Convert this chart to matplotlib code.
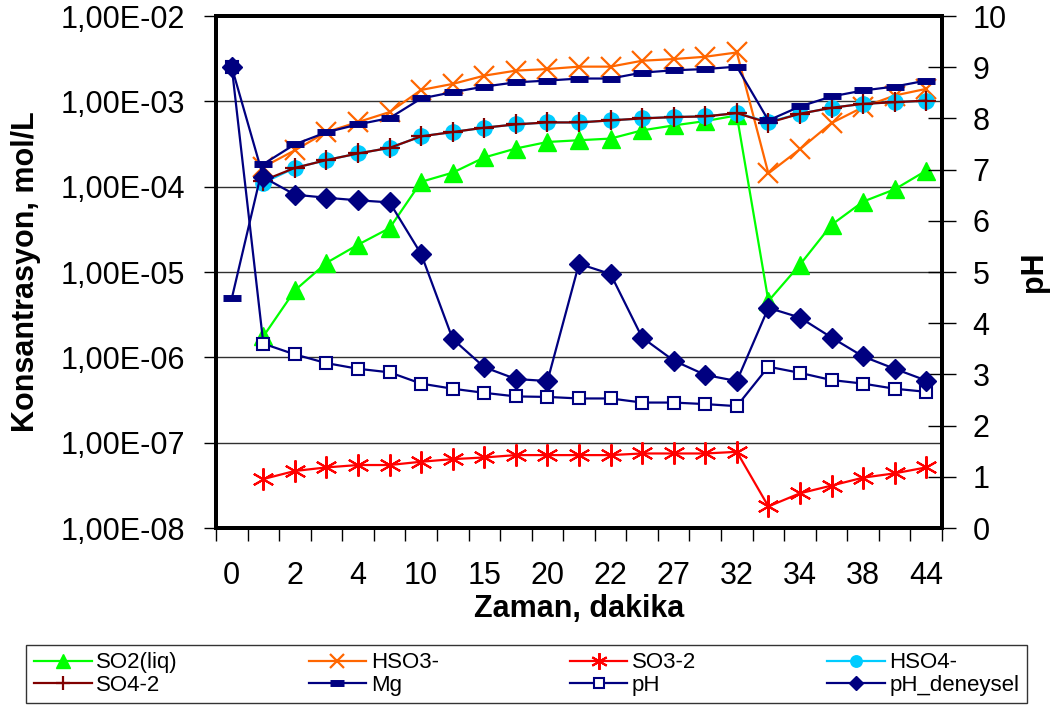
import numpy as np
import matplotlib
matplotlib.use("Agg")
from matplotlib import pyplot as plt

plt.rcParams['font.family'] = ['Liberation Sans', 'DejaVu Sans']

nan = np.nan
# x kategorileri (sadece her ikinci etiket gorunuyor)
x_labels = ['0', '2', '4', '10', '15', '20', '22', '27', '32', '34', '38', '44']
n_cat = 23

so2 = [nan, 1.76e-6, 6.1e-6, 1.28e-5, 2.09e-5, 3.27e-5, 1.14e-4, 1.46e-4, 2.2e-4, 2.8e-4, 3.34e-4, 3.5e-4,
       3.66e-4, 4.57e-4, 5.22e-4, 5.87e-4, 6.84e-4, 4.57e-6, 1.22e-5, 3.57e-5, 6.68e-5, 9.3e-5, 1.54e-4]
hso3 = [nan, 1.7e-4, 2.67e-4, 4.37e-4, 5.72e-4, 7.48e-4, 1.36e-3, 1.6e-3, 2.0e-3, 2.29e-3, 2.39e-3, 2.55e-3,
        2.55e-3, 2.99e-3, 3.13e-3, 3.33e-3, 3.74e-3, 1.43e-4, 2.75e-4, 5.57e-4, 8.55e-4, 1.17e-3, 1.4e-3]
so3 = [nan, 3.75e-8, 4.66e-8, 5.13e-8, 5.47e-8, 5.47e-8, 5.98e-8, 6.41e-8, 6.71e-8, 7.15e-8, 7.15e-8, 7.15e-8,
       7.15e-8, 7.47e-8, 7.47e-8, 7.47e-8, 7.81e-8, 1.79e-8, 2.55e-8, 3.14e-8, 3.89e-8, 4.37e-8, 5.13e-8]
hso4 = [nan, 1.11e-4, 1.66e-4, 2.05e-4, 2.45e-4, 2.85e-4, 3.89e-4, 4.37e-4, 4.91e-4, 5.37e-4, 5.66e-4, 5.66e-4,
        5.98e-4, 6.31e-4, 6.54e-4, 6.66e-4, 7.28e-4, 5.72e-4, 7.16e-4, 8.4e-4, 9.35e-4, 9.77e-4, 1.02e-3]
so4 = [nan, 1.18e-4, 1.66e-4, 2.05e-4, 2.45e-4, 2.85e-4, 3.89e-4, 4.37e-4, 4.91e-4, 5.37e-4, 5.66e-4, 5.66e-4,
       5.98e-4, 6.31e-4, 6.54e-4, 6.66e-4, 7.28e-4, 5.6e-4, 7.16e-4, 8.4e-4, 9.35e-4, 9.77e-4, 1.02e-3]
mg = [4.9e-6, 1.84e-4, 3.14e-4, 4.34e-4, 5.37e-4, 6.37e-4, 1.08e-3, 1.28e-3, 1.49e-3, 1.67e-3, 1.75e-3, 1.85e-3,
      1.85e-3, 2.17e-3, 2.31e-3, 2.39e-3, 2.55e-3, 5.98e-4, 8.7e-4, 1.14e-3, 1.34e-3, 1.49e-3, 1.75e-3]
ph = [9.0, 3.60, 3.39, 3.22, 3.11, 3.04, 2.82, 2.72, 2.64, 2.57, 2.56, 2.53,
      2.53, 2.45, 2.45, 2.42, 2.38, 3.15, 3.03, 2.89, 2.82, 2.72, 2.66]
ph_deneysel = [9.0, 6.85, 6.51, 6.45, 6.40, 6.36, 5.35, 3.69, 3.14, 2.91, 2.87, 5.16,
               4.96, 3.72, 3.27, 2.99, 2.87, 4.30, 4.11, 3.72, 3.35, 3.11, 2.88]

y_ticks = [1e-8, 1e-7, 1e-6, 1e-5, 1e-4, 1e-3, 1e-2]
y_ticklabels = ['1,00E-08', '1,00E-07', '1,00E-06', '1,00E-05', '1,00E-04', '1,00E-03', '1,00E-02']

x = np.arange(n_cat)
navy = '#000080'

fig = plt.figure(figsize=(10.57, 7.08), dpi=100)
ax = fig.add_axes([216/1057, 1-528/708, (942-216)/1057, (528-16)/708])
ax2 = ax.twinx()

lw = 1.6
h_so2, = ax.plot(x, so2, color='#00FF00', lw=lw, marker='^', ms=13, label='SO2(liq)')
h_hso3, = ax.plot(x, hso3, color='#FF6600', lw=lw, marker='x', ms=14, mew=1.6, label='HSO3-')
h_so3, = ax.plot(x, so3, color='#FF0000', lw=lw, marker=(6, 2, 0), ms=16, mew=1.5, label='SO3-2')
h_hso4, = ax.plot(x, hso4, color='#00CCFF', lw=lw, marker='o', ms=11, label='HSO4-')
h_so4, = ax.plot(x, so4, color='#800000', lw=lw, marker='+', ms=14, mew=1.6, label='SO4-2')
h_mg, = ax.plot(x, mg, color=navy, lw=lw, marker='_', ms=13, mew=5, label='Mg')

h_ph, = ax2.plot(x, ph, color=navy, lw=lw, marker='s', ms=9, mfc='white', mew=1.5, label='pH')
h_phd, = ax2.plot(x, ph_deneysel, color=navy, lw=lw, marker='D', ms=10, label='pH_deneysel')

ax.set_yscale('log')
ax.set_ylim(1e-8, 1e-2)
ax.set_yticks(y_ticks)
ax.set_yticklabels(y_ticklabels)
ax.yaxis.set_minor_locator(matplotlib.ticker.NullLocator())
ax.grid(axis='y', color='#303030', lw=1.0)
ax.set_axisbelow(True)

ax.set_xlim(-0.5, n_cat - 0.5)
ax.set_xticks(np.arange(-0.5, n_cat, 1.0))
ax.set_xticklabels([])
ax.set_xticks(x[::2], minor=True)
ax.set_xticklabels(x_labels, minor=True)
ax.tick_params(axis='x', which='major', direction='out', length=9, width=1)
ax.tick_params(axis='x', which='minor', length=0, pad=24, labelsize=22)
ax.tick_params(axis='y', direction='out', length=9, width=1, pad=13, labelsize=22)

ax2.set_ylim(0, 10)
ax2.set_yticks(range(0, 11))
ax2.tick_params(axis='y', direction='inout', length=20, width=1, pad=12, labelsize=22)

for a in (ax, ax2):
    for s in a.spines.values():
        s.set_linewidth(2.8)
        s.set_color('black')

ax.set_xlabel('Zaman, dakika', fontsize=22, fontweight='bold')
ax.xaxis.set_label_coords(0.5, -0.128)
ax.set_ylabel('Konsantrasyon, mol/L', fontsize=22, fontweight='bold')
ax.yaxis.set_label_coords(-0.241, 0.5)
ax2.set_ylabel('pH', fontsize=22, fontweight='bold', rotation=90)
ax2.yaxis.set_label_coords(1.106, 0.5)

handles = [h_so2, h_so4, h_hso3, h_mg, h_so3, h_ph, h_hso4, h_phd]
leg = fig.legend(handles=handles, labels=[h.get_label() for h in handles], ncol=4,
                 loc='center', bbox_to_anchor=(26/1057, 3/708, 1001/1057, 62/708),
                 mode='expand', borderaxespad=0, fontsize=16, frameon=True, fancybox=False,
                 edgecolor='#333333', framealpha=1, handlelength=2.6, handletextpad=0.2,
                 labelspacing=0.05, borderpad=0.35, markerscale=0.75)
leg.get_frame().set_linewidth(1.0)

fig.savefig('out.png', dpi=100)
